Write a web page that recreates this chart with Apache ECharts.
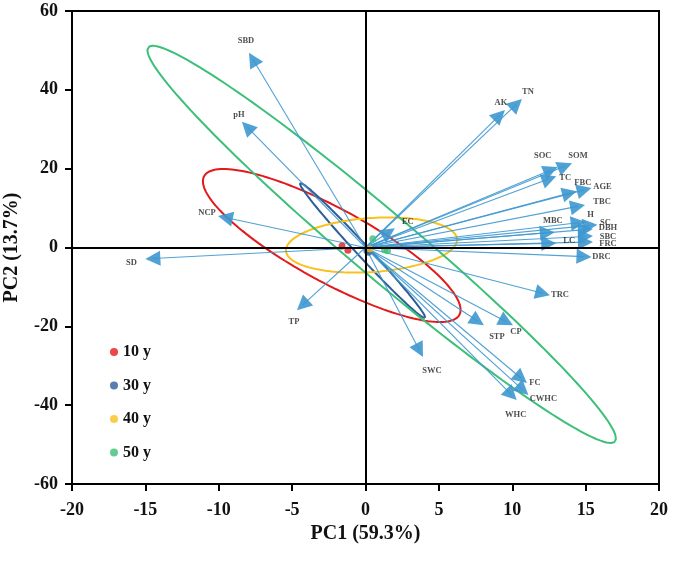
<!DOCTYPE html>
<html><head><meta charset="utf-8">
<script src="https://cdn.jsdelivr.net/npm/echarts@6/dist/echarts.min.js"></script>
<style>html,body{margin:0;padding:0;background:#fff}#c{width:673px;height:563px}</style>
</head><body><div id="c"></div>
<script>
// ---- data ----
const xTickMin = -20, xTickMax = 20, xTickStep = 5;
const yTickMin = -60, yTickMax = 60, yTickStep = 20;
const groups = ['10 y', '30 y', '40 y', '50 y'];
const pts10 = [[-1.6, 0.4], [-1.2, -0.7]];
const pts30 = [[0.1, -0.8], [0.2, -1.2]];
const pts40 = [[0.3, -0.4]];
const pts50 = [[0.5, 2.2], [1.3, -0.6], [1.5, -0.8]];
// ellipse params: centre, half-major vector, half-minor vector (data units)
const ell10 = [-2.3, 0.5, 8.7, -17.6, 1.2, 8.2];
const ell30 = [-0.2, -0.76, 4.26, -17.1, 0.3, 1.04];
const ell40 = [0.41, 0.63, 5.83, 1.5, 0.13, -6.83];
const ell50 = [1.1, 0.8, 15.9, -50.0, 1.41, 6.2];
const vecNames = ['SBD','pH','AK','TN','SOC','SOM','TC','FBC','AGE','TBC','H','SC','DBH','SBC','FRC','LC','MBC','DRC','EC','NCP','SD','TP','TRC','STP','CP','SWC','FC','CWHC','WHC'];
const vecX = [-7.94,-8.42,9.5,10.66,13.1,14.07,13.0,14.4,15.4,14.96,15.0,15.8,15.5,15.5,15.5,13.0,12.9,15.4,2.0,-10.05,-15.0,-4.67,12.57,8.07,10.05,3.92,11.0,11.1,10.3];
const vecY = [49.4,31.9,34.9,37.7,20.4,21.4,18.1,14.3,15.1,10.8,6.5,5.8,4.7,2.9,1.4,1.1,3.9,-2.4,4.9,8.0,-2.9,-15.9,-12.1,-19.7,-19.7,-27.8,-34.4,-37.4,-38.7];

// ---- styles ----
const colors = {'10 y':'#e31a1c','30 y':'#2e5e99','40 y':'#f7c11e','50 y':'#3cbf78'};
const labelOffsets = {SBD:[-3,-12],pH:[-3,-7],AK:[-4,-7],TN:[6,-7],SOC:[-15,-11],SOM:[6,-7],TC:[9,2],FBC:[6,-8],AGE:[11,-1],TBC:[17,-3],H:[5,-7],SC:[8,-2],DBH:[15,-1],SBC:[15,1],FRC:[15,2],LC:[13,-2],MBC:[-2,-11],DRC:[10,0],EC:[13,-6],NCP:[-11,-3],SD:[-14,4],TP:[-3,12],TRC:[10,0],STP:[13,12],CP:[3,7],SWC:[9,14],FC:[8,0],CWHC:[15,4],WHC:[-1,15]};
const serif = "'Liberation Serif','Times New Roman',serif";
const arrowColor = '#3d97cf';
const headLen = 15, headWidth = 8;

function ellipse(e){
  const out=[];
  for(let k=0;k<=160;k++){
    const t=k/160*2*Math.PI;
    out.push([e[0]+Math.cos(t)*e[2]+Math.sin(t)*e[4], e[1]+Math.cos(t)*e[3]+Math.sin(t)*e[5]]);
  }
  return out;
}
const ells = [ell10, ell30, ell40, ell50];
const pts = [pts10, pts30, pts40, pts50];

const series = [];
groups.forEach((g,i)=>{
  series.push({type:'line', name:g+' ellipse', data:ellipse(ells[i]), showSymbol:false, symbol:'none', smooth:false,
    lineStyle:{color:colors[g], width:2}, silent:true, z:2});
});
series.push({id:'arrows', type:'lines', coordinateSystem:'cartesian2d', silent:true, z:3,
  symbol:['none','triangle'], symbolSize:[headWidth,headLen],
  lineStyle:{color:arrowColor, width:1.1, opacity:0.9},
  itemStyle:{color:arrowColor},
  data: vecNames.map((n,i)=>({coords:[[0,0],[vecX[i],vecY[i]]]}))});
series.push({type:'scatter', silent:true, z:6, symbolSize:1, itemStyle:{color:'rgba(0,0,0,0)'},
  data: vecNames.map((n,i)=>({name:n, value:[vecX[i],vecY[i]],
    label:{show:true, position:'inside', offset:labelOffsets[n], formatter:n, color:'#222', fontFamily:serif, fontWeight:'bold', fontSize:8.5}}))});
series.push({type:'line', data:[], silent:true, z:5,
  markLine:{silent:true, symbol:'none', label:{show:false}, lineStyle:{color:'#000', width:2, type:'solid'},
    data:[{xAxis:0},{yAxis:0}], animation:false}});
groups.forEach((g,i)=>{
  series.push({type:'scatter', name:g, data:pts[i], symbolSize:7, itemStyle:{color:colors[g]}, z:4});
});

const chart = echarts.init(document.getElementById('c'), null, {renderer:'canvas'});
chart.setOption({
  animation:false,
  backgroundColor:'#fff',
  grid:{left:72, right:14, top:11, bottom:79, show:true, borderColor:'#000', borderWidth:2, containLabel:false, outerBoundsMode:'none'},
  legend:{data:groups.map(g=>({name:g, icon:'circle'})), orient:'vertical', left:105, top:339, itemWidth:8, itemHeight:8, itemGap:17.5,
    textStyle:{fontFamily:serif, fontWeight:'bold', fontSize:16, color:'#111'}},
  xAxis:{type:'value', min:xTickMin, max:xTickMax, interval:xTickStep,
    name:'PC1 (59.3%)', nameLocation:'middle', nameGap:29,
    nameTextStyle:{fontFamily:serif, fontWeight:'bold', fontSize:20, color:'#111'},
    axisLine:{onZero:false, lineStyle:{color:'#000', width:2}},
    axisTick:{inside:false, length:7, lineStyle:{color:'#000', width:2}},
    axisLabel:{fontFamily:serif, fontWeight:'bold', fontSize:18, color:'#111', margin:17},
    splitLine:{show:false}},
  yAxis:{type:'value', min:yTickMin, max:yTickMax, interval:yTickStep,
    name:'PC2 (13.7%)', nameLocation:'middle', nameGap:50, nameRotate:90,
    nameTextStyle:{fontFamily:serif, fontWeight:'bold', fontSize:20, color:'#111'},
    axisLine:{onZero:false, lineStyle:{color:'#000', width:2}},
    axisTick:{inside:false, length:7, lineStyle:{color:'#000', width:2}},
    axisLabel:{fontFamily:serif, fontWeight:'bold', fontSize:18, color:'#111', margin:14},
    splitLine:{show:false}},
  series:series
});
// pull each arrow's end back by half a head length so the head's tip lands on the vector end
const o = chart.convertToPixel({gridIndex:0}, [0,0]);
const arrowData = vecNames.map((n,i)=>{
  const p = chart.convertToPixel({gridIndex:0}, [vecX[i], vecY[i]]);
  const dx = p[0]-o[0], dy = p[1]-o[1], L = Math.hypot(dx,dy);
  const c = [p[0]-dx/L*headLen/2, p[1]-dy/L*headLen/2];
  return {coords:[[0,0], chart.convertFromPixel({gridIndex:0}, c)]};
});
chart.setOption({series:[{id:'arrows', data:arrowData}]});
</script></body></html>
